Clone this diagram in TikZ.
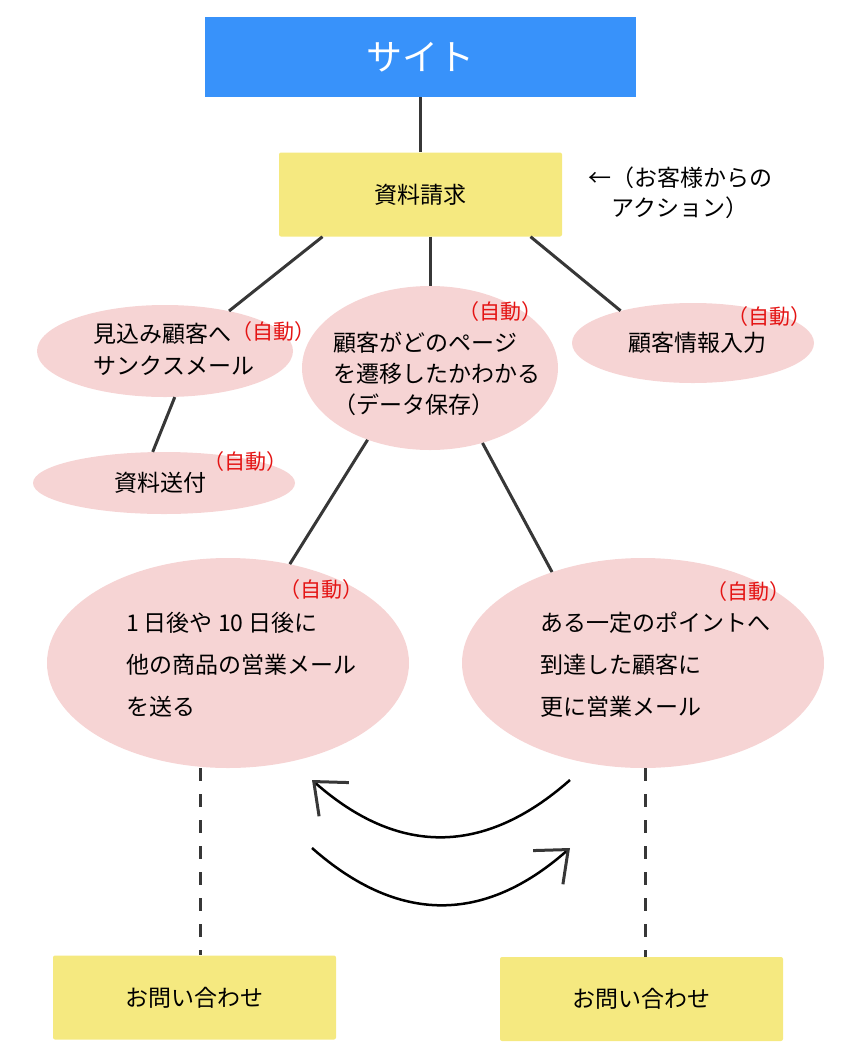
\documentclass[tikz,border=0pt]{standalone}
\usepackage{fontspec}
\setmainfont{Noto Sans CJK JP}
\usepackage{tikz}
\usetikzlibrary{shapes.geometric,arrows.meta}
\definecolor{siteblue}{RGB}{56,146,250}
\definecolor{memoyellow}{RGB}{245,233,128}
\definecolor{autopink}{RGB}{246,212,212}
\definecolor{autored}{RGB}{228,20,20}
\definecolor{linegray}{RGB}{55,55,55}

\begin{document}
\begin{tikzpicture}[x=1pt,y=-1pt,
  yellowbox/.style={fill=memoyellow, rounded corners=2pt, minimum width=283pt, minimum height=84pt, inner sep=0pt, font=\fontsize{23}{28}\selectfont},
  pinkoval/.style={ellipse, fill=autopink, inner sep=0pt},
  bodytext/.style={align=left, inner sep=0pt, font=\fontsize{23}{32}\selectfont},
  autotag/.style={text=autored, inner sep=0pt, font=\fontsize{21}{24}\selectfont},
  link/.style={draw=linegray, line width=3pt},
  swing/.style={line width=2.5pt, -{Straight Barb[length=27pt,width=45pt,line width=3pt,color=linegray]}}]
  \useasboundingbox (0,0) rectangle (843,1061);

  \node[fill=siteblue, minimum width=431pt, minimum height=80pt, inner sep=0pt, text=white, font=\fontsize{36}{40}\selectfont] (site) at (420.5,57) {サイト};
  \node[yellowbox] (req) at (420.5,194.5) {資料請求};
  \node[align=center, inner sep=0pt, font=\fontsize{23}{30}\selectfont] (note) at (680,193) {←（お客様からの\\アクション）};

  % ovals (automatic steps)
  \node[pinkoval, minimum width=256pt, minimum height=92pt] (thanks) at (165,351) {};
  \node[pinkoval, minimum width=262pt, minimum height=62pt] (send) at (164,483) {};
  \node[pinkoval, minimum width=256pt, minimum height=164pt] (track) at (430,368) {};
  \node[pinkoval, minimum width=242pt, minimum height=80pt] (info) at (693,343) {};
  \node[pinkoval, minimum width=362pt, minimum height=210pt] (later) at (228,663) {};
  \node[pinkoval, minimum width=362pt, minimum height=210pt] (point) at (643,663) {};

  \node[bodytext] (thanksText) at (174,349) {見込み顧客へ\\サンクスメール};
  \node[autotag] (thanksAuto) at (273,332) {（自動）};
  \node[bodytext] (sendText) at (160,483) {資料送付};
  \node[autotag] (sendAuto) at (245,462) {（自動）};
  \node[bodytext, font=\fontsize{23}{31}\selectfont] (trackText) at (437,374) {顧客がどのページ\\を遷移したかわかる\\（データ保存）};
  \node[autotag] (trackAuto) at (500,312) {（自動）};
  \node[bodytext] (infoText) at (697,343) {顧客情報入力};
  \node[autotag] (infoAuto) at (769,317) {（自動）};
  \node[bodytext, font=\fontsize{23}{42}\selectfont] (laterText) at (241,665) {1 日後や 10 日後に\\他の商品の営業メール\\を送る};
  \node[autotag] (laterAuto) at (321,590) {（自動）};
  \node[bodytext, font=\fontsize{23}{42}\selectfont] (pointText) at (655,665) {ある一定のポイントへ\\到達した顧客に\\更に営業メール};
  \node[autotag] (pointAuto) at (748,592) {（自動）};

  \node[yellowbox] (ask1) at (194.5,997.5) {お問い合わせ};
  \node[yellowbox] (ask2) at (641.5,999) {お問い合わせ};

  \draw[link] (site) -- (req);
  \draw[link] ([xshift=-98pt]req.south) -- (thanks.32);
  \draw[link] (req.south -| track.north) -- (track.north);
  \draw[link] ([xshift=110pt]req.south) -- (info.156);
  \draw[link] (thanks.282) -- (send.110);
  \draw[link] (track.229) -- (later.58);
  \draw[link] (track.305) -- (point.135);
  \draw[link, dash pattern=on 13pt off 13pt] ([xshift=5.5pt]ask1.north |- later.south) -- ([xshift=5.5pt]ask1.north);
  \draw[link, dash pattern=on 13pt off 13pt] ([xshift=3.5pt]ask2.north |- point.south) -- ([xshift=3.5pt]ask2.north);

  % back and forth
  \coordinate (backA) at (570,780);
  \coordinate (backB) at (312,780);
  \coordinate (fwdA) at (312,848);
  \coordinate (fwdB) at (570,848);
  \draw[swing] (backA) .. controls +(-86,76) and +(86,76) .. (backB);
  \draw[swing] (fwdA) .. controls +(86,76) and +(-86,76) .. (fwdB);
\end{tikzpicture}
\end{document}
